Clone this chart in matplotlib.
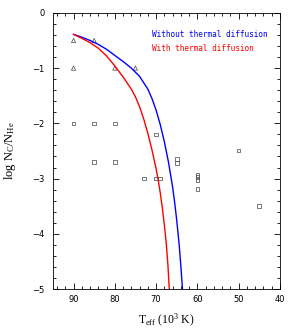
import matplotlib
matplotlib.use('Agg')
import matplotlib.pyplot as plt
from matplotlib.ticker import MultipleLocator

plt.rcParams['mathtext.fontset'] = 'custom'
plt.rcParams['mathtext.rm'] = 'Liberation Serif'
plt.rcParams['mathtext.it'] = 'Liberation Serif:italic'

# model curves (Teff in 10^3 K, log Nc/NHe)
t_nodiff = [90, 88, 86, 84, 82, 80, 78, 76, 74, 72, 71, 70, 69, 68, 67, 66, 65.5, 65, 64.4, 64.0, 63.6]
c_nodiff = [-0.39, -0.44, -0.50, -0.57, -0.66, -0.77, -0.88, -1.00, -1.15, -1.38, -1.55,
            -1.76, -2.02, -2.33, -2.70, -3.15, -3.43, -3.75, -4.20, -4.58, -5.0]
t_diff = [90, 88, 86, 84, 82, 80, 78, 76, 75, 74, 73, 72, 71, 70, 69.5, 69, 68.5, 68, 67.5, 67.1, 66.8]
c_diff = [-0.39, -0.46, -0.54, -0.64, -0.78, -0.96, -1.16, -1.38, -1.52, -1.70, -1.92,
          -2.18, -2.48, -2.82, -3.02, -3.25, -3.52, -3.83, -4.20, -4.60, -5.0]

# observed stars
tri_t = [90, 85, 90, 80, 75]
tri_c = [-0.5, -0.5, -1.0, -1.0, -1.0]
sq_t = [90, 85, 80, 85, 80, 70, 65, 65, 73, 70, 69, 60, 60, 60, 60, 50, 45]
sq_c = [-2.0, -2.0, -2.0, -2.7, -2.7, -2.2, -2.65, -2.72, -3.0, -3.0, -3.0,
        -2.93, -2.97, -3.03, -3.19, -2.49, -3.49]

fig = plt.figure(figsize=(2.99, 3.30), dpi=100)
ax = fig.add_axes([0.177, 0.124, 0.759, 0.837])

ax.plot(t_nodiff, c_nodiff, color='#0000ff', lw=1.0)
ax.plot(t_diff, c_diff, color='#ff0000', lw=1.0)
ax.scatter(tri_t, tri_c, marker='^', s=9, facecolors='none', edgecolors='#444444', linewidths=0.5)
ax.scatter(sq_t, sq_c, marker='s', s=7, facecolors='none', edgecolors='#444444', linewidths=0.5)

ax.text(71, -0.40, 'Without thermal diffusion', color='#0000ff', fontsize=5.6,
        family='DejaVu Sans Mono', va='center')
ax.text(71, -0.64, 'With thermal diffusion', color='#ff0000', fontsize=5.6,
        family='DejaVu Sans Mono', va='center')

ax.set_xlim(95, 40)
ax.set_ylim(-5, 0)
ax.xaxis.set_major_locator(MultipleLocator(10))
ax.xaxis.set_minor_locator(MultipleLocator(2))
ax.yaxis.set_major_locator(MultipleLocator(1))
ax.yaxis.set_minor_locator(MultipleLocator(0.2))
ax.tick_params(which='both', direction='in', top=True, right=True, width=0.6,
               labelsize=6)
ax.tick_params(axis='x', pad=4)
ax.tick_params(axis='y', pad=6)
ax.tick_params(which='major', length=4)
ax.tick_params(which='minor', length=2)
ax.set_xticks([90, 80, 70, 60, 50, 40])
ax.set_yticks([0, -1, -2, -3, -4, -5])
ax.set_yticklabels(['0', '\u22121', '\u22122', '\u22123', '\u22124', '\u22125'])
for s in ax.spines.values():
    s.set_linewidth(0.6)

ax.set_xlabel(r'T$_{\rm eff}$ (10$^3$ K)', family='Liberation Serif', fontsize=8.5, labelpad=6)
ax.set_ylabel(r'log N$_{\rm C}$/N$_{\rm He}$', family='Liberation Serif', fontsize=9, labelpad=10)

fig.savefig('out.png', dpi=100)
